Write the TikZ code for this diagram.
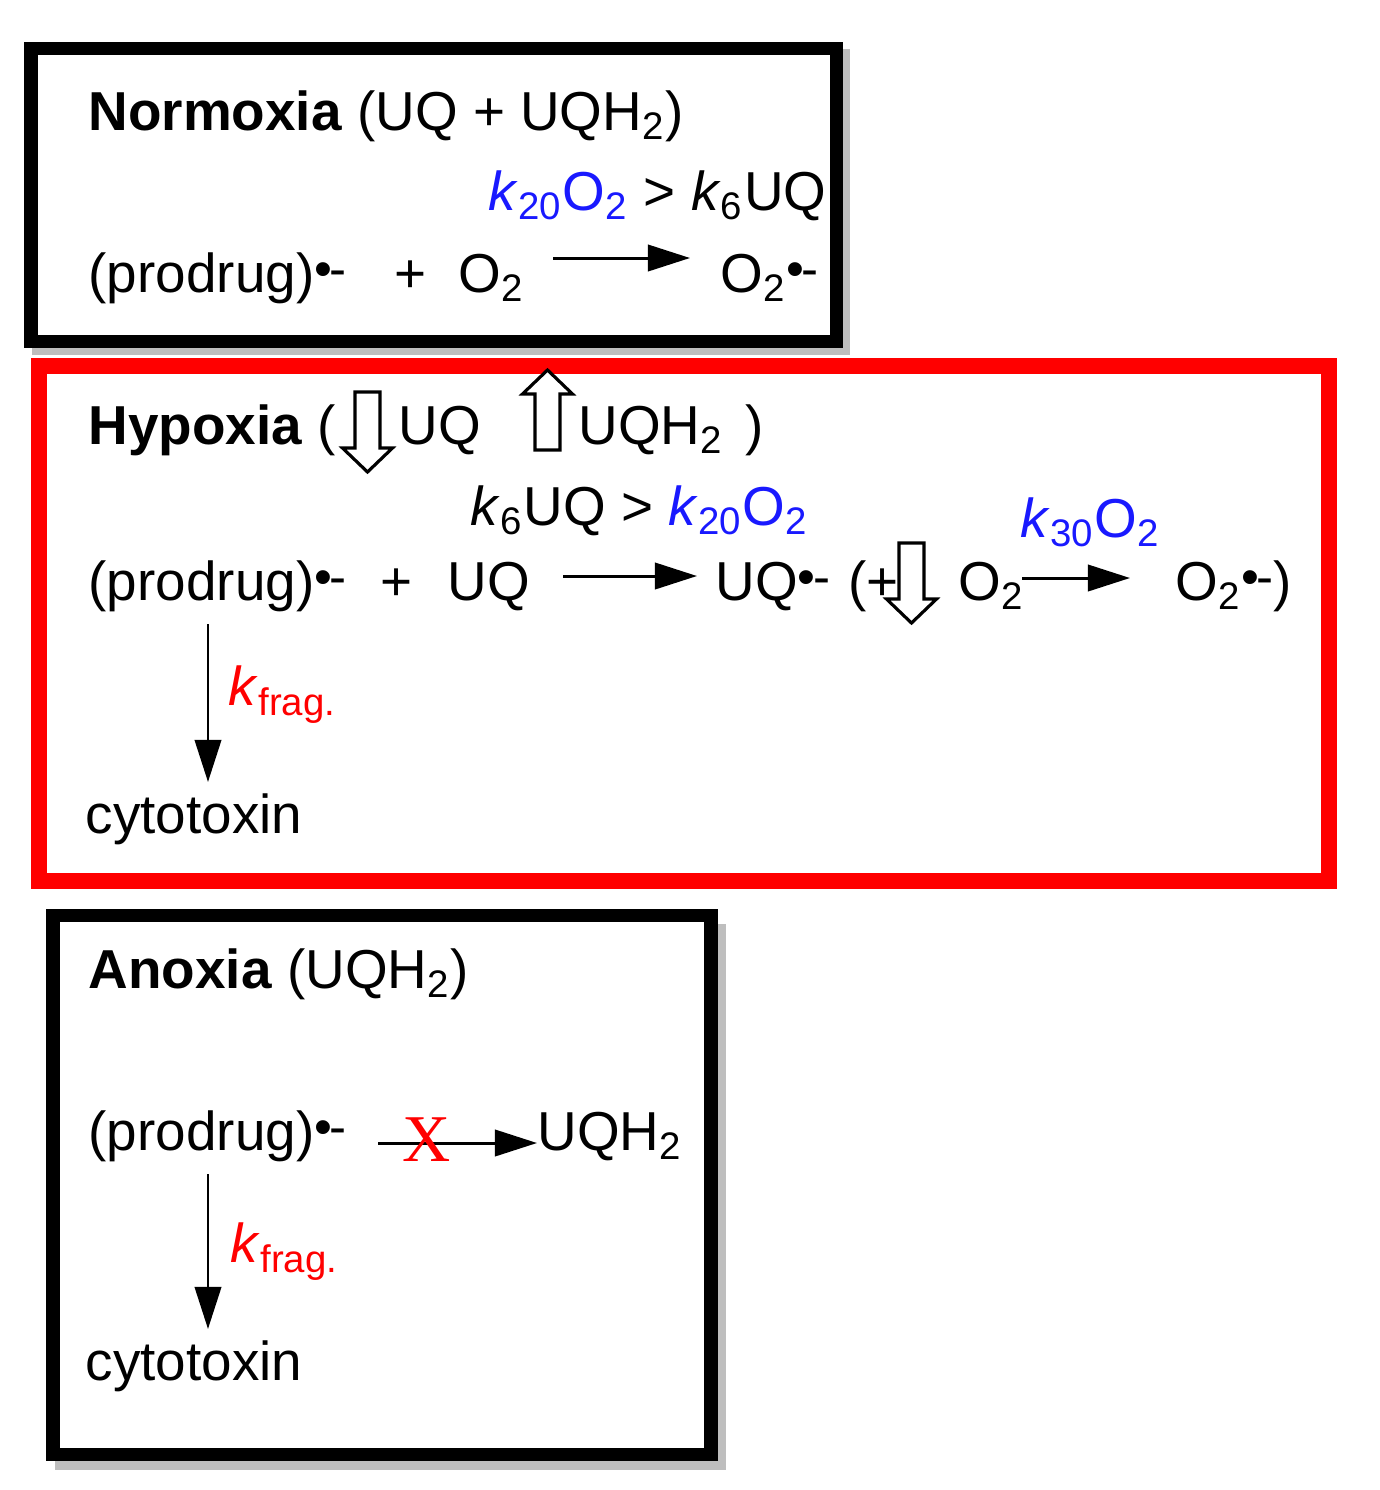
\documentclass[tikz,border=0pt]{standalone}
\usepackage{fontspec}
\setmainfont{Liberation Sans}
\setsansfont{Liberation Sans}
\newfontfamily\crossfont{Liberation Serif}
\usetikzlibrary{arrows.meta}
\definecolor{rateblue}{RGB}{25,25,255}
\definecolor{fragred}{RGB}{255,0,0}
\definecolor{shadowgray}{RGB}{190,190,190}
%% radical anion mark and a rate constant k with its index
\newcommand{\radan}{\raisebox{0.1em}{\fontsize{14.5}{14}\selectfont •\kern-0.05em-}}
\newcommand{\rk}[1]{\textit{k}\textsubscript{#1}}
\tikzset{
  txt/.style={inner sep=0pt, anchor=base west, font=\fontsize{15.6}{18}\selectfont},
  rxn/.style={line width=0.85pt, -{Triangle[length=12pt,width=7.5pt]}},
  boxline/.style={line width=3.7pt, fill=white},
  hollowarrow/.pic={\draw[line width=0.9pt, fill=white] (-12.5,0) -- (12.5,0) -- (12.5,56) -- (25,56) -- (0,80) -- (-25,56) -- (-12.5,56) -- cycle;}
}
\begin{document}
\begin{tikzpicture}[x=0.01cm, y=-0.01cm]
\useasboundingbox (0,0) rectangle (1380,1490);
%% The three boxes. The black ones get a grey shadow to the lower right.
\begin{scope}
    \fill[shadowgray] (31.5,48.5) rectangle (849.5,354.5);
    \draw[boxline] (31,48) rectangle (836,341);
    \draw[boxline, draw=fragred, line width=4.3pt] (39,366) rectangle (1329,881);
    \fill[shadowgray] (54.5,923.5) rectangle (725.5,1469.5);
    \draw[boxline] (53,915) rectangle (711,1454);
\end{scope}

%% Normoxia
\node[txt] (normT) at (88,130) {\textbf{Normoxia} (UQ + UQH\textsubscript{2})};
\node[txt] (normRate) at (488,210) {\textcolor{rateblue}{\rk{20}O\textsubscript{2}} > \rk{6}UQ};
\node[txt] (normPro) at (88,292) {(prodrug)\radan};
\node[txt, anchor=base] (normPlus) at (411,292) {+};
\node[txt] (normO) at (458,292) {O\textsubscript{2}};
\node[txt] (normSup) at (720,292) {O\textsubscript{2}\radan};
\coordinate (normA) at (553,258);
\coordinate (normB) at (690,258);
\draw[rxn] (normA) -- (normB);

%% Hypoxia
\node[txt] (hypT) at (88,444) {\textbf{Hypoxia} (};
\pic at (367.5,392) {hollowarrow};
\node[txt] (hypUQ) at (398,444) {UQ};
\pic[rotate=180] at (547.5,450) {hollowarrow};
\node[txt] (hypUQH) at (578,444) {UQH\textsubscript{2}};
\node[txt] (hypCl) at (745,444) {)};
\node[txt] (hypRate) at (470,525) {\rk{6}UQ > \textcolor{rateblue}{\rk{20}O\textsubscript{2}}};
\node[txt, text=rateblue] (hypRateB) at (1020,537) {\rk{30}O\textsubscript{2}};
\node[txt] (hypPro) at (88,600) {(prodrug)\radan};
\node[txt, anchor=base] (hypPlus) at (397,600) {+};
\node[txt] (hypUQb) at (447,600) {UQ};
\node[txt] (hypSemi) at (715,600) {UQ\radan};
\node[txt] (hypOpen) at (848,600) {(+};
\pic at (911.5,543) {hollowarrow};
\node[txt] (hypO) at (958,600) {O\textsubscript{2}};
\node[txt] (hypSup) at (1175,600) {O\textsubscript{2}\radan)};
\node[txt] (hypTox) at (85,833) {cytotoxin};
\node[txt, text=fragred] (hypFrag) at (228,705) {\rk{frag.}};
\coordinate (hypA) at (563,576);
\coordinate (hypB) at (697,576);
\coordinate (hypC) at (1022,578);
\coordinate (hypD) at (1130,578);
\draw[rxn] (hypA) -- (hypB);
\draw[rxn] (hypC) -- (hypD);
\draw[rxn, shorten >=3pt] (hypPro.south west -| 208,0) ++(0,12) -- (hypTox.north west -| 208,0);

%% Anoxia
\node[txt] (anoT) at (88,988) {\textbf{Anoxia} (UQH\textsubscript{2})};
\node[txt] (anoPro) at (88,1150) {(prodrug)\radan};
\node[txt] (anoUQH) at (537,1150) {UQH\textsubscript{2}};
\node[txt] (anoTox) at (85,1380) {cytotoxin};
\node[txt, text=fragred] (anoFrag) at (230,1262) {\rk{frag.}};
\coordinate (anoA) at (378,1143);
\draw[rxn] (anoA) -- (anoUQH.west |- anoA);
\node[inner sep=0pt, text=fragred, font=\crossfont\fontsize{19}{19}\selectfont] (anoX) at (427,1140) {X};
\draw[rxn, shorten >=3pt] (anoPro.south west -| 208,0) ++(0,12) -- (anoTox.north west -| 208,0);
\end{tikzpicture}
\end{document}
